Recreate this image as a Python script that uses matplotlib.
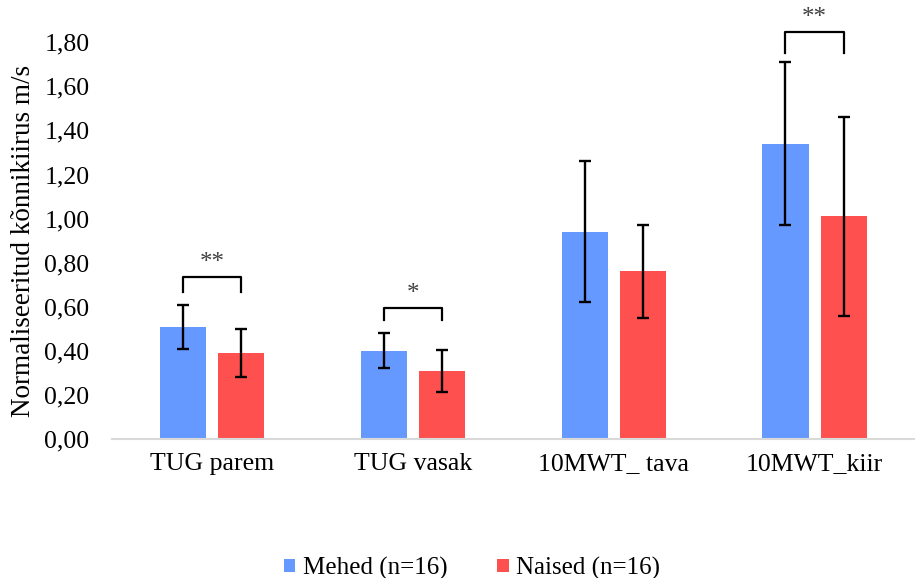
import numpy as np
import matplotlib.pyplot as plt
from matplotlib.ticker import FuncFormatter, MultipleLocator

categories = ["TUG parem", "TUG vasak", "10MWT_ tava", "10MWT_kiir"]
mehed = [0.51, 0.40, 0.94, 1.34]
mehed_sd = [0.10, 0.08, 0.32, 0.37]
naised = [0.39, 0.31, 0.76, 1.01]
naised_sd = [0.11, 0.095, 0.21, 0.45]

# significance brackets: category index, bracket height, leg bottom, label
sig_idx = [0, 1, 3]
sig_top = [0.735, 0.595, 1.845]
sig_leg = [0.665, 0.54, 1.75]
sig_text = ["**", "*", "**"]

blue = "#6699FF"
red = "#FF5050"

plt.rcParams['font.family'] = ['Liberation Serif', 'DejaVu Serif']

fig = plt.figure(figsize=(9.15, 5.78), dpi=100)
ax = fig.add_axes([0.122, 0.2405, 0.878, 0.6865])

x = np.arange(len(categories))
w = 0.23
off = 0.145
err_kw = dict(ecolor="black", elinewidth=1.7, capsize=4.5, capthick=1.7)
ax.bar(x - off, mehed, w, yerr=mehed_sd, color=blue, label="Mehed (n=16)", error_kw=err_kw)
ax.bar(x + off, naised, w, yerr=naised_sd, color=red, label="Naised (n=16)", error_kw=err_kw)

for i, top, leg, txt in zip(sig_idx, sig_top, sig_leg, sig_text):
    ax.plot([i - off, i - off, i + off, i + off], [leg, top, top, leg],
            color="black", lw=1.6, clip_on=False)
    ax.text(i, top + 0.015, txt, ha="center", va="bottom", fontsize=18,
            color="#404040", clip_on=False)

ax.set_xlim(-0.5, 3.5)
ax.set_ylim(0, 1.8)
ax.yaxis.set_major_locator(MultipleLocator(0.2))
ax.yaxis.set_major_formatter(FuncFormatter(lambda v, p: f"{v:.2f}".replace(".", ",")))
ax.set_xticks(x)
ax.set_xticklabels(categories)
ax.tick_params(axis="both", length=0, labelsize=18.5)
ax.tick_params(axis="y", pad=16)
ax.tick_params(axis="x", pad=10)

for s in ["top", "right", "left"]:
    ax.spines[s].set_visible(False)
ax.spines["bottom"].set_color("#D9D9D9")
ax.spines["bottom"].set_linewidth(1.5)

ax.set_ylabel("Normaliseeritud kõnnikiirus m/s", fontsize=19.5, labelpad=6)

handles, lbls = ax.get_legend_handles_labels()
fig.legend(handles, lbls, loc="lower center", ncol=2, bbox_to_anchor=(0.516, -0.042),
           frameon=False, fontsize=18, handlelength=0.45, handleheight=0.45,
           handletextpad=0.3, columnspacing=2.0)

plt.savefig("out.png", dpi=100)
